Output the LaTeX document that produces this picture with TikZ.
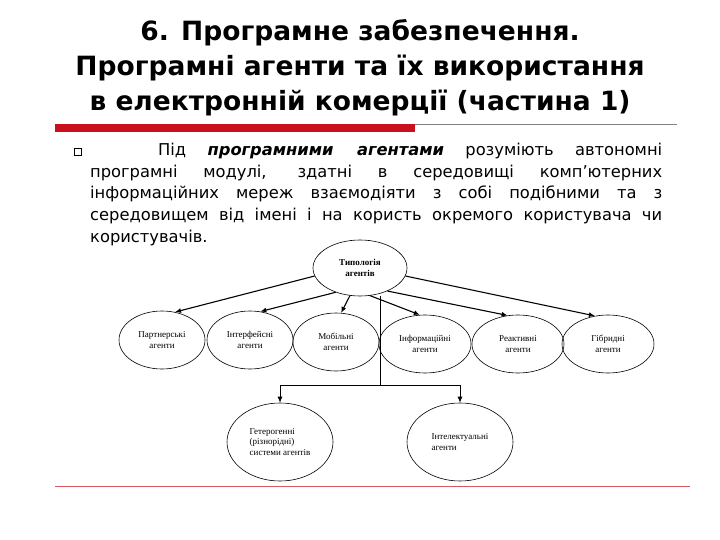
\documentclass[tikz,border=0pt]{standalone}
\usepackage{fontspec}
\setmainfont{DejaVu Sans}
\newfontfamily\serifsmall{Liberation Serif}
\usetikzlibrary{shapes.geometric,arrows.meta}
\definecolor{redbar}{RGB}{200,16,30}
\begin{document}
\begin{tikzpicture}[x=1pt,y=-1pt,
  el/.style={ellipse,draw,line width=0.6pt,inner sep=0pt,font=\serifsmall\fontsize{9}{10.5}\selectfont,align=center},
  arr/.style={-{Latex[length=6pt,width=5pt]},line width=1.1pt},
  arrthin/.style={-{Latex[length=6pt,width=5pt]},line width=0.8pt}]
\useasboundingbox (0,0) rectangle (720,540);
\node[font=\bfseries\fontsize{26.5}{35}\selectfont,align=center] (title) at (360,68)
 {6. Програмне забезпечення.\\Програмні агенти та їх використання\\в електронній комерції (частина 1)};
\fill[redbar] (55,124) rectangle (415,132);
\draw[gray,line width=0.6pt] (415,124) -- (677,124);
\draw[redbar!70,line width=0.8pt] (55,486) -- (690,486);
\node[draw,line width=0.7pt,minimum size=7pt,inner sep=0pt] (bul) at (78,152) {};
\node[anchor=north west,inner sep=0pt,text width=572pt,align=justify,font=\fontsize{16.3}{21.7}\selectfont] (para) at (90,143)
 {\hspace*{68pt}Під \textbf{\textit{програмними агентами}} розуміють автономні програмні модулі, здатні в середовищі комп'ютерних інформаційних мереж взаємодіяти з собі подібними та з середовищем від імені і на користь окремого користувача чи користувачів.};
\node[el,minimum width=94pt,minimum height=56pt,font=\serifsmall\bfseries\fontsize{9}{10.5}\selectfont] (top) at (360,268) {Типологія\\агентів};
\node[el,minimum width=86pt,minimum height=58pt] (a1) at (162,340) {Партнерські\\агенти};
\node[el,minimum width=86pt,minimum height=58pt] (a2) at (250,340) {Інтерфейсні\\агенти};
\node[el,minimum width=86pt,minimum height=58pt] (a3) at (336,342) {Мобільні\\агенти};
\node[el,minimum width=92pt,minimum height=58pt] (a4) at (425,344) {Інформаційні\\агенти};
\node[el,minimum width=92pt,minimum height=58pt] (a5) at (518,344) {Реактивні\\агенти};
\node[el,minimum width=92pt,minimum height=58pt] (a6) at (608,344) {Гібридні\\агенти};
\node[el,minimum width=106pt,minimum height=78pt,align=left] (b1) at (280,442) {Гетерогенні\\(різнорідні)\\системи агентів};
\node[el,minimum width=106pt,minimum height=78pt,align=left] (b2) at (460,442) {Інтелектуальні\\агенти};
\draw[arr] (top.190) -- (a1.65);
\draw[arr] (top.225) -- (a2.70);
\draw[arr] (top.250) -- (a3.80);
\draw[arr] (top.290) -- (a4.100);
\draw[arr] (top.320) -- (a5.110);
\draw[arr] (top.350) -- (a6.115);
\coordinate (j) at (380,385);
\draw[line width=0.8pt] (top.south -| j) -- (j);
\draw[arrthin] (j) -| (b1.north);
\draw[arrthin] (j) -| (b2.north);
\end{tikzpicture}
\end{document}
